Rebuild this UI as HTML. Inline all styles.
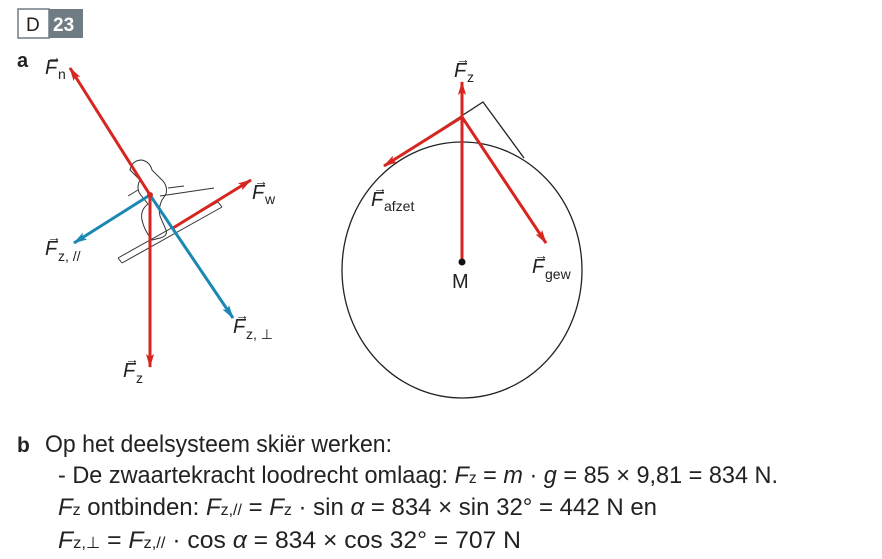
<!DOCTYPE html>
<html><head><meta charset="utf-8"><style>
html,body{margin:0;padding:0;background:#fff;width:882px;height:559px;overflow:hidden}
svg{display:block;font-family:"Liberation Sans Narrow","Liberation Sans",sans-serif}
</style></head><body>
<svg width="882" height="559" viewBox="0 0 882 559" xmlns="http://www.w3.org/2000/svg">
<defs>
<marker id="ar" viewBox="0 0 14 8" refX="13" refY="4" markerWidth="14" markerHeight="8" orient="auto" markerUnits="userSpaceOnUse"><path d="M0,0 L14,4 L0,8 L3,4 z" fill="#d6261f"/></marker>
<marker id="ab" viewBox="0 0 14 8" refX="13" refY="4" markerWidth="14" markerHeight="8" orient="auto" markerUnits="userSpaceOnUse"><path d="M0,0 L14,4 L0,8 L3,4 z" fill="#1a87b4"/></marker>
</defs>
<style>
.r{stroke:#d6261f;stroke-width:3;fill:none}
.b{stroke:#1a87b4;stroke-width:3;fill:none}
.l{font-family:"Liberation Sans",sans-serif;font-size:20px;fill:#222}
.s{font-family:"Liberation Sans",sans-serif;font-size:14px;fill:#222}
.t{font-size:24px;fill:#222}
</style>
<rect x="18" y="9" width="31" height="29" fill="#fff" stroke="#6f7c84" stroke-width="1.5"/>
<rect x="49" y="9" width="34" height="29" fill="#6f7c84"/>
<text x="26" y="31" font-family="Liberation Sans" font-size="19" fill="#222">D</text>
<text x="53" y="31" font-family="Liberation Sans" font-size="19" font-weight="bold" fill="#fff">23</text>
<text x="17" y="67" font-family="Liberation Sans" font-size="20" font-weight="bold" fill="#222">a</text>

<g stroke="#333" stroke-width="1" fill="none">
<path d="M130,170 q2,-10 12,-10 q8,2 10,10 l10,10 q6,6 4,14 l-4,6 q-4,8 -2,16 l6,14 q2,6 -6,8 l-8,2 q-8,-10 -10,-20 q-2,-10 6,-16 l-8,-10 q-4,-6 0,-14z"/>
<path d="M138,190 l-10,6 M160,196 l54,-8 M168,188 l16,-2"/>
<path d="M118,258 l100,-56 M122,263 l100,-56 M118,258 l4,5 M218,202 l4,5"/>
</g>
<line class="r" x1="150" y1="195" x2="70" y2="68" marker-end="url(#ar)"/>
<line class="r" x1="150" y1="195" x2="150" y2="367" marker-end="url(#ar)"/>
<line class="r" x1="173" y1="228" x2="251" y2="180" marker-end="url(#ar)"/>
<line class="b" x1="150" y1="195" x2="74" y2="243" marker-end="url(#ab)"/>
<line class="b" x1="150" y1="195" x2="233" y2="318" marker-end="url(#ab)"/>
<circle cx="150" cy="195" r="3" fill="#d6261f"/>

<text class="l" x="45" y="74" font-style="italic">F</text><text class="s" x="58" y="79">n</text><text class="s" x="47" y="62">→</text>
<text class="l" x="252" y="199" font-style="italic">F</text><text class="s" x="265" y="204">w</text><text class="s" x="254" y="186">→</text>
<text class="l" x="45" y="255" font-style="italic">F</text><text class="s" x="58" y="261">z, //</text><text class="s" x="47" y="242">→</text>
<text class="l" x="233" y="333" font-style="italic">F</text><text class="s" x="246" y="339">z, ⊥</text><text class="s" x="235" y="320">→</text>
<text class="l" x="123" y="377" font-style="italic">F</text><text class="s" x="136" y="383">z</text><text class="s" x="125" y="364">→</text>

<ellipse cx="462" cy="270" rx="120" ry="128" fill="none" stroke="#222" stroke-width="1.3"/>
<polyline points="386,165 483,102 524,158" fill="none" stroke="#222" stroke-width="1.3"/>
<line class="r" x1="462" y1="262" x2="462" y2="82" marker-end="url(#ar)"/>
<line class="r" x1="462" y1="117" x2="384" y2="166" marker-end="url(#ar)"/>
<line class="r" x1="462" y1="117" x2="546" y2="243" marker-end="url(#ar)"/>
<circle cx="462" cy="262" r="3.5" fill="#111"/>
<text class="l" x="452" y="288">M</text>
<text class="l" x="454" y="77" font-style="italic">F</text><text class="s" x="467" y="82">z</text><text class="s" x="456" y="64">→</text>
<text class="l" x="371" y="206" font-style="italic">F</text><text class="s" x="384" y="211">afzet</text><text class="s" x="373" y="193">→</text>
<text class="l" x="532" y="273" font-style="italic">F</text><text class="s" x="545" y="279">gew</text><text class="s" x="534" y="260">→</text>

<text x="17" y="452" font-family="Liberation Sans" font-size="21" font-weight="bold" fill="#222">b</text>
<text class="t" x="45" y="452" textLength="347" lengthAdjust="spacingAndGlyphs">Op het deelsysteem skiër werken:</text>
<text class="t" x="58" y="483" textLength="720" lengthAdjust="spacingAndGlyphs">- De zwaartekracht loodrecht omlaag: <tspan font-style="italic">F</tspan><tspan font-size="16">z</tspan> = <tspan font-style="italic">m</tspan> · <tspan font-style="italic">g</tspan> = 85 × 9,81 = 834 N.</text>
<text class="t" x="58" y="515" textLength="599" lengthAdjust="spacingAndGlyphs"><tspan font-style="italic">F</tspan><tspan font-size="16">z</tspan> ontbinden: <tspan font-style="italic">F</tspan><tspan font-size="16">z,//</tspan> = <tspan font-style="italic">F</tspan><tspan font-size="16">z</tspan> · sin <tspan font-style="italic">α</tspan> = 834 × sin 32° = 442 N en</text>
<text class="t" x="58" y="548" textLength="463" lengthAdjust="spacingAndGlyphs"><tspan font-style="italic">F</tspan><tspan font-size="16">z,⊥</tspan> = <tspan font-style="italic">F</tspan><tspan font-size="16">z,//</tspan> · cos <tspan font-style="italic">α</tspan> = 834 × cos 32° = 707 N</text>
</svg>
</body></html>
